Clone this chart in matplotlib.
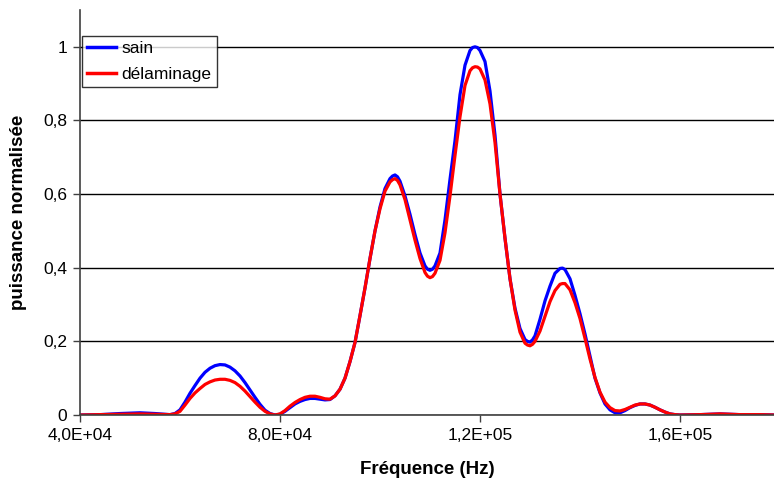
import matplotlib.pyplot as plt

plt.rcParams['font.family'] = ['Liberation Sans', 'DejaVu Sans']

# frequency in kHz
freq_khz = [40, 44, 48, 52, 55, 58,
            59, 60, 61, 62, 63, 64, 65, 66, 67, 68, 69, 70, 71, 72, 73, 74, 75, 76, 77, 78, 79,
            80, 81, 82, 83, 84, 85, 86, 87, 88, 89, 90, 91, 92, 93, 94, 95, 96, 97, 98, 99,
            100, 101, 102, 102.5, 103, 103.5, 104, 105, 106, 107, 108, 109, 109.5, 110, 110.5, 111, 112, 113, 114, 115, 116, 117, 118, 118.5, 119, 119.5,
            120, 121, 122, 123, 124, 125, 126, 127, 128, 129, 129.5, 130, 130.5, 131, 132, 133, 134, 135, 136, 136.5, 137, 138, 139,
            140, 141, 142, 143, 144, 145, 146, 147, 148, 149, 150, 151, 152, 153, 154, 155, 156, 157, 158, 159,
            160, 164, 168, 172, 176, 179]

sain = [0.0, 0.001, 0.004, 0.006, 0.004, 0.001,
        0.004, 0.014, 0.035, 0.059, 0.080, 0.100, 0.116, 0.127, 0.134, 0.137, 0.136, 0.130, 0.120, 0.106, 0.088, 0.068, 0.048, 0.029, 0.013, 0.004, 0.0,
        0.002, 0.010, 0.020, 0.030, 0.037, 0.042, 0.045, 0.045, 0.043, 0.041, 0.042, 0.052, 0.070, 0.100, 0.145, 0.197, 0.270, 0.345, 0.425, 0.500,
        0.565, 0.615, 0.642, 0.649, 0.652, 0.647, 0.635, 0.595, 0.545, 0.490, 0.440, 0.405, 0.396, 0.393, 0.396, 0.405, 0.440, 0.530, 0.640, 0.745, 0.870, 0.950, 0.990, 0.998, 1.000, 0.998,
        0.990, 0.960, 0.880, 0.760, 0.600, 0.480, 0.370, 0.290, 0.235, 0.205, 0.200, 0.198, 0.204, 0.215, 0.260, 0.310, 0.350, 0.385, 0.398, 0.399, 0.395, 0.370, 0.325,
        0.275, 0.220, 0.160, 0.100, 0.060, 0.030, 0.014, 0.006, 0.006, 0.012, 0.020, 0.026, 0.030, 0.030, 0.027, 0.021, 0.014, 0.008, 0.003, 0.001,
        0.0, 0.001, 0.003, 0.001, 0.001, 0.0]

delaminage = [0.0, 0.001, 0.002, 0.003, 0.002, 0.001,
              0.003, 0.010, 0.027, 0.045, 0.060, 0.072, 0.083, 0.090, 0.095, 0.097, 0.097, 0.094, 0.088, 0.078, 0.065, 0.050, 0.035, 0.021, 0.010, 0.003, 0.0,
              0.003, 0.012, 0.024, 0.034, 0.042, 0.048, 0.051, 0.051, 0.048, 0.044, 0.043, 0.052, 0.070, 0.100, 0.145, 0.197, 0.270, 0.345, 0.425, 0.500,
              0.560, 0.608, 0.633, 0.639, 0.642, 0.637, 0.625, 0.585, 0.530, 0.475, 0.425, 0.387, 0.377, 0.373, 0.376, 0.385, 0.420, 0.495, 0.595, 0.705, 0.810, 0.895, 0.935, 0.943, 0.946, 0.945,
              0.940, 0.910, 0.845, 0.740, 0.600, 0.480, 0.370, 0.285, 0.225, 0.195, 0.190, 0.188, 0.192, 0.200, 0.228, 0.268, 0.308, 0.338, 0.355, 0.357, 0.357, 0.340, 0.305,
              0.262, 0.208, 0.152, 0.102, 0.062, 0.035, 0.020, 0.012, 0.011, 0.015, 0.021, 0.027, 0.030, 0.030, 0.027, 0.021, 0.014, 0.008, 0.003, 0.001,
              0.0, 0.001, 0.003, 0.001, 0.001, 0.0]

freq = [f * 1000 for f in freq_khz]

x_ticks = [40000, 80000, 120000, 160000]
x_labels = ["4,0E+04", "8,0E+04", "1,2E+05", "1,6E+05"]
y_ticks = [0, 0.2, 0.4, 0.6, 0.8, 1.0]
y_labels = ["0", "0,2", "0,4", "0,6", "0,8", "1"]

fig = plt.figure(figsize=(7.74, 4.86), dpi=100)
ax = fig.add_axes([80 / 774, 1 - 415 / 486, 694 / 774, 405 / 486])

ax.plot(freq, sain, color="#0000ff", lw=2.3, label="sain", solid_joinstyle="round")
ax.plot(freq, delaminage, color="#ff0000", lw=2.3, label="délaminage", solid_joinstyle="round")

ax.set_xlim(40000, 178800)
ax.set_ylim(0, 1.1)
ax.set_xticks(x_ticks)
ax.set_xticklabels(x_labels)
ax.set_yticks(y_ticks)
ax.set_yticklabels(y_labels)
ax.tick_params(labelsize=12.5, length=5, width=1, color="#404040", pad=4)

ax.yaxis.grid(True, color="black", lw=1)
ax.set_axisbelow(True)
ax.spines["top"].set_visible(False)
ax.spines["right"].set_visible(False)
ax.spines["left"].set_color("#404040")
ax.spines["bottom"].set_color("#404040")
ax.spines["left"].set_linewidth(1.2)
ax.spines["bottom"].set_linewidth(1.2)

ax.set_xlabel("Fréquence (Hz)", fontsize=13.5, fontweight="bold", labelpad=13)
ax.set_ylabel("puissance normalisée", fontsize=13.5, fontweight="bold", labelpad=12)

leg = ax.legend(loc="upper left", bbox_to_anchor=(0.0, 0.94), fontsize=12.5,
                frameon=True, fancybox=False, handlelength=1.7, handletextpad=0.3,
                borderpad=0.3, labelspacing=0.6, borderaxespad=0.1)
leg.get_frame().set_edgecolor("black")
leg.get_frame().set_linewidth(1)
for line in leg.get_lines():
    line.set_linewidth(2.5)

fig.savefig("out.png", dpi=100)
